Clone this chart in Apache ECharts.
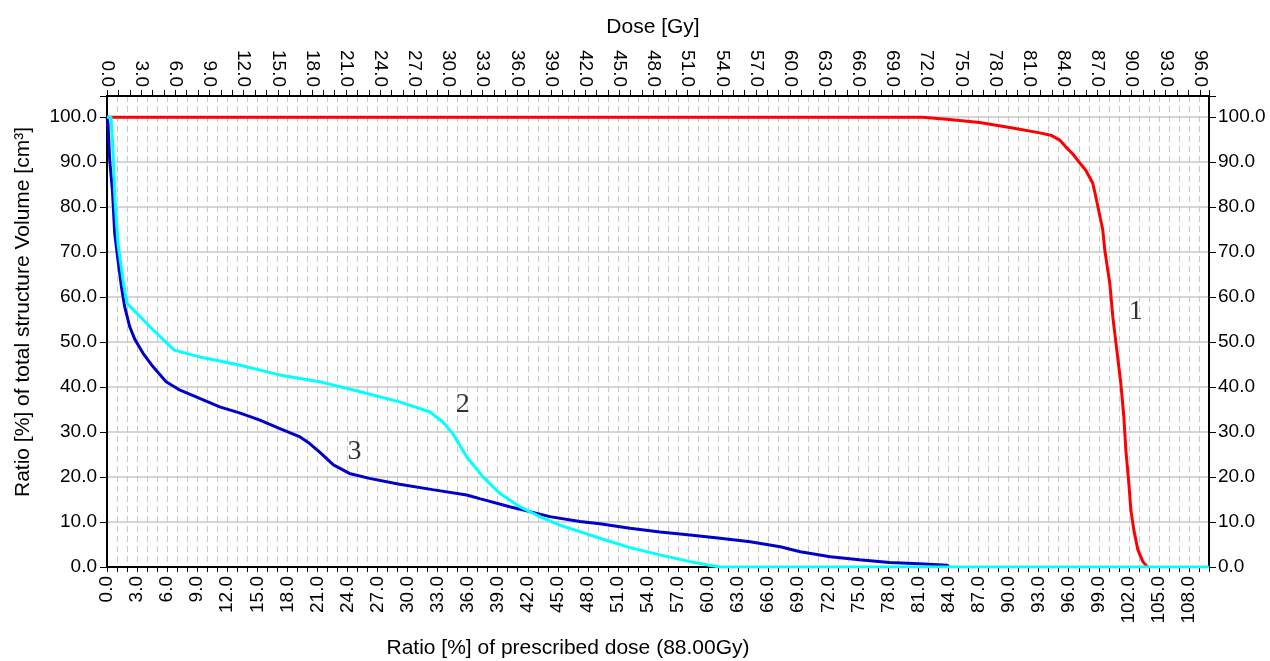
<!DOCTYPE html>
<html>
<head>
<meta charset="utf-8">
<title>DVH</title>
<script src="https://cdn.jsdelivr.net/npm/echarts@6.0.0/dist/echarts.min.js"></script>
<style>
	html, body {margin: 0; padding: 0; background: #fff;}
	#chart {width: 1270px; height: 661px;}
</style>
</head>
<body>
<div id="chart"></div>
<script>
//	curve 1 (red)
var ptvX = [0, 81.4, 84.1, 87.1, 90.4, 93.1, 94.3, 95.1, 95.7, 96.4, 97.0, 97.7, 98.4, 98.7, 99.4, 99.6, 100.1, 100.4, 100.8, 101.2, 101.5, 101.7, 102.0, 102.2, 102.5, 102.9, 103.4, 103.7, 103.9];
var ptvY = [100, 100, 99.5, 98.8, 97.6, 96.5, 95.9, 94.9, 93.4, 91.8, 90.1, 88.2, 85.3, 82.3, 74.9, 70.4, 63.0, 55.6, 48.2, 40.8, 33.4, 26.0, 18.6, 12.7, 8.2, 3.8, 1.2, 0.4, 0];

//	curve 2 (cyan)
var oar2X = [0, 0.4, 0.6, 0.8, 1.1, 1.6, 2.0, 4.3, 6.7, 9.25, 13.2, 17.2, 21.2, 25.2, 29.2, 32.2, 33.5, 34.5, 35.9, 37.5, 39.2, 41.2, 43.2, 45.2, 49.2, 52.2, 55.2, 58.2, 60.1, 61.2, 110];
var oar2Y = [100, 100, 92.7, 81.6, 71.9, 63.8, 58.6, 53.4, 48.2, 46.7, 44.9, 42.7, 41.2, 39.0, 36.7, 34.5, 32.3, 29.7, 24.5, 20.1, 16.4, 13.4, 11.2, 9.3, 6.4, 4.3, 2.7, 1.2, 0.4, 0, 0];

//	curve 3 (blue)
var oar3X = [0, 0.1, 0.27, 0.54, 0.77, 1.1, 1.44, 1.77, 2.27, 2.8, 3.6, 4.6, 5.9, 7.3, 9.25, 11.25, 13.3, 15.2, 17.2, 19.2, 20.2, 21.2, 22.6, 24.2, 26.2, 29.2, 32.5, 35.9, 37.2, 40.2, 42.2, 44.2, 47.2, 49.2, 52.2, 55.2, 58.2, 61.2, 64.2, 67.2, 69.2, 72.2, 75.1, 78.1, 81.1, 83.9, 84.0];
var oar3Y = [100, 98.6, 90.4, 83.8, 74.1, 68.2, 62.3, 57.8, 53.4, 50.5, 47.5, 44.5, 41.2, 39.3, 37.5, 35.6, 34.2, 32.7, 30.8, 29.0, 27.5, 25.6, 22.7, 20.8, 19.7, 18.4, 17.2, 16.0, 15.2, 13.4, 12.3, 11.2, 10.1, 9.6, 8.6, 7.8, 7.1, 6.4, 5.6, 4.5, 3.4, 2.3, 1.6, 1.0, 0.7, 0.4, 0];

//	curve numbers
var tagText = ['1', '2', '3'];
var tagX = [102.7, 35.5, 24.7];
var tagY = [56.7, 36.0, 25.6];

function pairs(x, y) {
	var d = [];
	for(var i=0; i<x.length; i++) {d.push([x[i], y[i]]);}
	return d;
}

function every(n) {
	return function(v) {
		var k = v / n;
		return Math.abs(k - Math.round(k)) < 1e-6 ? v.toFixed(1) : '';
	};
}

var font = 'Liberation Sans, Arial, sans-serif';
var lbl = {color: '#000', fontSize: 19, fontFamily: font};
var titleFont = '21px ' + font;

var myChart = echarts.init(document.getElementById('chart'));

var option = {
	animation: false,
	backgroundColor: '#fff',
	grid: {left: 107, right: 61, top: 96, bottom: 94},
	xAxis: [
		{
			type: 'value', position: 'bottom', min: 0, max: 110, interval: 1,
			axisLine: {show: true, onZero: false, lineStyle: {color: '#000', width: 2}},
			axisTick: {show: true, length: 5, lineStyle: {color: '#000'}},
			axisLabel: Object.assign({rotate: 90, margin: 9, formatter: every(3)}, lbl),
			splitLine: {show: true, lineStyle: {color: '#c8c8c8', width: 1, type: [6, 4]}}
		},
		{
			type: 'value', position: 'top', min: 0, max: 96.8, interval: 1,
			axisLine: {show: true, onZero: false, lineStyle: {color: '#000', width: 2}},
			axisTick: {show: true, length: 6, lineStyle: {color: '#000'}},
			axisLabel: Object.assign({rotate: 90, margin: 9, formatter: every(3)}, lbl),
			splitLine: {show: false}
		}
	],
	yAxis: [
		{
			type: 'value', position: 'left', min: 0, max: 104.7, interval: 10,
			axisLine: {show: true, onZero: false, lineStyle: {color: '#000', width: 2}},
			axisTick: {show: true, length: 7, lineStyle: {color: '#000'}},
			axisLabel: Object.assign({margin: 10, formatter: every(10)}, lbl),
			splitLine: {show: true, lineStyle: {color: '#c8c8c8', width: 1.5}}
		},
		{
			type: 'value', position: 'right', min: 0, max: 104.7, interval: 10,
			axisLine: {show: true, onZero: false, lineStyle: {color: '#000', width: 2}},
			axisTick: {show: true, length: 7, lineStyle: {color: '#000'}},
			axisLabel: Object.assign({margin: 9, formatter: every(10)}, lbl),
			splitLine: {show: false}
		}
	],
	graphic: [
		{type: 'text', style: {text: 'Dose [Gy]', x: 653, y: 27, textAlign: 'center', textVerticalAlign: 'middle', font: titleFont, fill: '#000'}},
		{type: 'text', style: {text: 'Ratio [%] of prescribed dose (88.00Gy)', x: 568, y: 648, textAlign: 'center', textVerticalAlign: 'middle', font: titleFont, fill: '#000'}},
		{type: 'text', x: 23, y: 312, rotation: Math.PI / 2, style: {text: 'Ratio [%] of total structure Volume [cm³]', x: 0, y: 0, textAlign: 'center', textVerticalAlign: 'middle', font: titleFont, fill: '#000'}}
	],
	series: [
		{name: '1', type: 'line', data: pairs(ptvX, ptvY), showSymbol: false, lineStyle: {color: '#ff0000', width: 3}, z: 3},
		{name: '3', type: 'line', data: pairs(oar3X, oar3Y), showSymbol: false, lineStyle: {color: '#0000c8', width: 3}, z: 4},
		{name: '2', type: 'line', data: pairs(oar2X, oar2Y), showSymbol: false, lineStyle: {color: '#00ffff', width: 3}, z: 5},
		{
			name: 'tags', type: 'scatter', symbolSize: 0, z: 6,
			data: pairs(tagX, tagY).map(function(p, i) {return {value: p, name: tagText[i]};}),
			label: {show: true, position: 'inside', formatter: '{b}', color: '#000', fontSize: 28, fontFamily: 'Liberation Serif, Times New Roman, serif'}
		}
	]
};

myChart.setOption(option);
</script>
</body>
</html>
